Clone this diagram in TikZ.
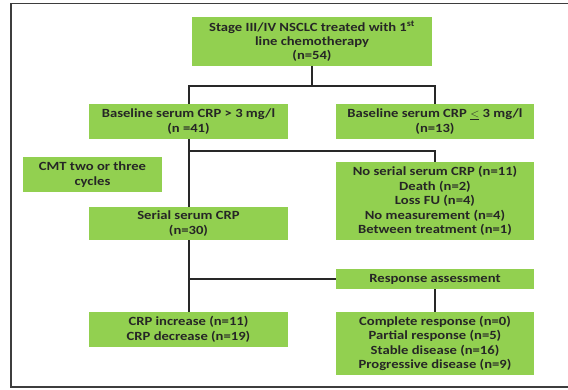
\documentclass[tikz,border=0pt]{standalone}
\usepackage{fontspec}
\setmainfont{Carlito}[FakeStretch=1.17]
\definecolor{boxgreen}{RGB}{146,208,80}
\definecolor{linegray}{RGB}{40,40,40}
\begin{document}
\begin{tikzpicture}[x=1pt,y=-1pt,
  gbox/.style={fill=boxgreen,draw=none,align=center,inner sep=0pt,
    font=\fontsize{12.5}{14.4}\selectfont\bfseries,text=black!85},
  conn/.style={draw=linegray,line width=2.5pt}]
\useasboundingbox (0,0) rectangle (568,389);
\fill[white] (0,0) rectangle (568,389);
\draw[linegray!90,line width=1.8pt] (11,3.5) rectangle (572,387);
\node[gbox,minimum width=240pt,minimum height=49pt] (top) at (312,41.5)
  {Stage III/IV NSCLC treated with 1\textsuperscript{st}\\line chemotherapy\\(n=54)};
\node[gbox,minimum width=199pt,minimum height=35pt] (bl) at (188.5,121.5)
  {Baseline serum CRP > 3 mg/l\\(n =41)};
\node[gbox,minimum width=198pt,minimum height=35pt] (br) at (435,121.5)
  {Baseline serum CRP $\underline{<}$ 3 mg/l\\(n=13)};
\node[gbox,minimum width=139pt,minimum height=35pt] (cmt) at (92.5,174.5)
  {CMT two or three\\cycles};
\node[gbox,minimum width=198pt,minimum height=78pt] (noserial) at (435,201)
  {No serial serum CRP (n=11)\\Death (n=2)\\Loss FU (n=4)\\No measurement (n=4)\\Between treatment (n=1)};
\node[gbox,minimum width=199pt,minimum height=33pt] (serial) at (188.5,223.5)
  {Serial serum CRP\\(n=30)};
\node[gbox,minimum width=198pt,minimum height=20pt] (resp) at (435,279)
  {Response assessment};
\node[gbox,minimum width=199pt,minimum height=35pt] (crp) at (188.5,329.5)
  {CRP increase (n=11)\\CRP decrease (n=19)};
\node[gbox,minimum width=198pt,minimum height=63pt] (outcome) at (435,343.5)
  {Complete response (n=0)\\Partial response (n=5)\\Stable disease (n=16)\\Progressive disease (n=9)};
\coordinate (j1) at (312,86);
\coordinate (j2) at (189,151);
\coordinate (j3) at (189,279);
\draw[conn] (top.south) -- (j1);
\draw[conn] ([xshift=0.5pt]bl.north) |- (j1) -| (br.north);
\draw[conn] ([xshift=0.5pt]bl.south) -- ([xshift=0.5pt]serial.north);
\draw[conn] (j2) -| (noserial.north);
\draw[conn] ([xshift=0.5pt]serial.south) -- ([xshift=0.5pt]crp.north);
\draw[conn] (j3) -- (resp.west);
\draw[conn] (resp.south) -- (outcome.north);
\end{tikzpicture}
\end{document}
